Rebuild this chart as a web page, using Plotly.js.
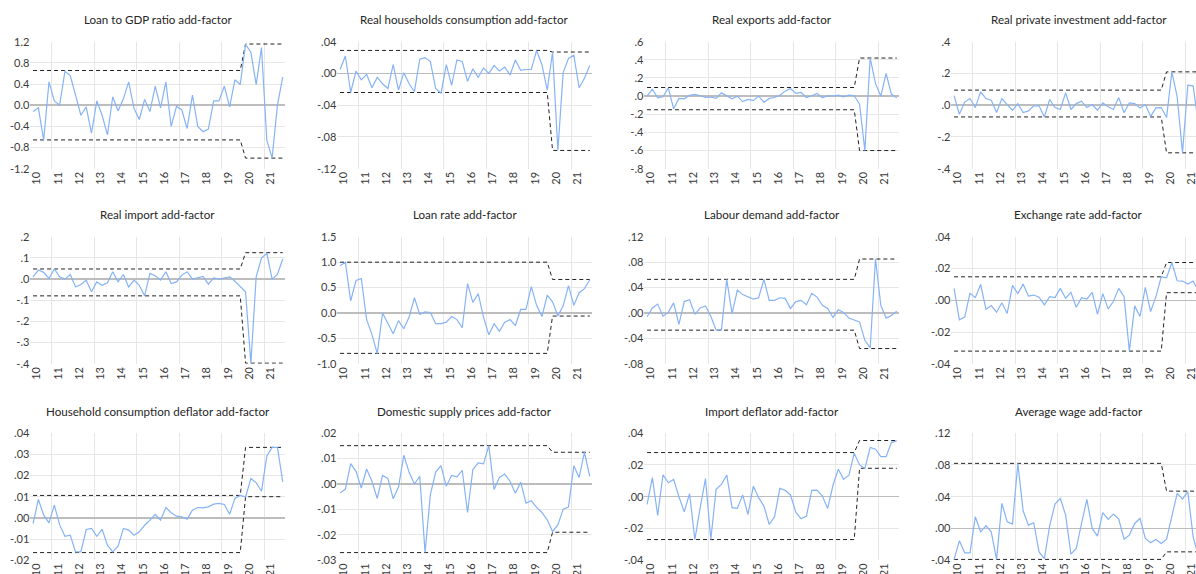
<!DOCTYPE html>
<html><head><meta charset="utf-8">
<script src="https://cdn.plot.ly/plotly-3.0.1.min.js"></script>
<style>html,body{margin:0;padding:0;overflow:hidden;background:#fff}#chart{width:1215px;height:574px}</style>
</head><body><div id="chart"></div>
<script>
// ---------- categories ----------
const years = [2010,2011,2012,2013,2014,2015,2016,2017,2018,2019,2020,2021];
const yearLabels = ["10","11","12","13","14","15","16","17","18","19","20","21"];
const quarters = [];
years.forEach(y => [1,2,3,4].forEach(q => quarters.push(y + "Q" + q)));
const boundQuarters = ["2010Q1","2019Q4","2020Q1","2021Q4"];

const titles = [
  "Loan to GDP ratio add-factor","Real households consumption add-factor","Real exports add-factor","Real private investment add-factor",
  "Real import add-factor","Loan rate add-factor","Labour demand add-factor","Exchange rate add-factor",
  "Household consumption deflator add-factor","Domestic supply prices add-factor","Import deflator add-factor","Average wage add-factor"
];

// ---------- series values (2010Q1 .. 2021Q4) ----------
const loanGdp = [-0.12,-0.05,-0.66,0.44,0.08,0.0,0.64,0.56,0.19,-0.19,-0.03,-0.53,0.08,-0.19,-0.56,0.16,-0.11,0.12,0.44,-0.06,-0.27,0.11,-0.12,0.36,-0.05,0.44,-0.40,-0.02,-0.09,-0.44,0.19,-0.40,-0.50,-0.45,0.08,0.08,0.36,-0.03,0.48,0.39,1.15,1.0,0.39,1.09,-0.66,-1.0,0.0,0.53];
const realCons = [0.005,0.022,-0.024,0.003,-0.008,-0.001,-0.018,-0.005,-0.013,-0.019,0.011,-0.021,0.001,-0.013,-0.023,0.018,0.020,0.015,-0.019,-0.025,0.011,-0.015,0.017,0.015,-0.010,0.006,-0.005,0.007,0.0,0.010,0.003,0.008,-0.002,0.017,0.004,0.005,0.005,0.029,0.011,-0.021,0.027,-0.097,0.001,0.019,0.023,-0.018,-0.006,0.010];
const realExports = [0.0,0.076,-0.018,-0.007,0.09,-0.14,-0.025,-0.03,0.01,0.02,0.004,-0.015,-0.01,-0.025,0.036,0.004,-0.03,0.0,-0.06,-0.036,-0.05,0.0,-0.07,-0.025,-0.015,0.01,0.055,0.084,0.03,0.04,-0.015,0.004,0.03,-0.018,0.004,0.0,0.01,-0.007,0.01,0.004,-0.09,-0.60,0.42,0.14,0.0,0.25,0.02,-0.018];
const realInvest = [0.06,-0.057,0.02,0.042,-0.015,0.084,0.042,0.032,-0.046,0.042,0.004,-0.032,0.01,-0.046,-0.036,-0.004,-0.004,-0.074,0.036,-0.015,-0.027,0.078,-0.027,0.01,0.025,-0.015,0.004,-0.032,0.015,-0.01,-0.027,0.048,-0.048,0.015,0.01,-0.017,0.004,-0.07,-0.017,-0.015,-0.078,0.21,0.053,-0.30,0.126,0.122,-0.12,0.05];
const realImport = [0.011,0.043,0.032,0.003,0.048,0.011,0.0,0.022,-0.037,-0.025,-0.005,-0.06,-0.013,-0.029,-0.017,0.035,-0.013,0.022,-0.037,-0.005,-0.029,-0.079,0.027,0.016,-0.005,0.035,-0.021,-0.013,0.019,0.035,0.0,0.006,0.013,-0.024,0.006,0.0,0.006,0.011,-0.01,-0.037,-0.06,-0.397,0.011,0.10,0.122,0.0,0.022,0.095];
const loanRate = [0.93,1.0,0.24,0.64,0.68,-0.13,-0.42,-0.8,0.0,-0.21,-0.41,-0.15,-0.31,-0.08,0.30,-0.03,0.02,0.01,-0.21,-0.21,-0.18,-0.07,-0.13,-0.29,0.58,0.21,0.38,-0.08,-0.43,-0.21,-0.36,-0.18,-0.13,-0.25,0.07,0.07,0.52,0.15,-0.07,0.35,0.22,-0.06,0.14,0.54,0.15,0.40,0.48,0.65];
const labourDemand = [-0.006,0.008,0.014,-0.005,0.001,0.016,-0.018,0.018,0.021,-0.002,0.008,0.011,-0.005,-0.027,-0.027,0.053,-0.001,0.036,0.029,0.025,0.022,0.024,0.053,0.020,0.020,0.024,0.023,0.007,0.018,0.020,0.013,0.031,0.025,0.012,0.007,-0.007,0.005,0.001,-0.008,-0.011,-0.014,-0.043,-0.055,0.085,0.012,-0.008,-0.004,0.003];
const exchangeRate = [0.0075,-0.0123,-0.0106,0.0044,0.0017,0.010,-0.0056,-0.0033,-0.0075,-0.0015,-0.0083,0.0094,0.0042,0.0102,0.0027,0.0033,0.0019,-0.0029,0.0023,0.0017,0.0075,0.0013,0.005,-0.0044,0.0017,0.0008,0.005,-0.0088,0.0042,-0.0054,-0.0008,0.0075,0.0023,-0.032,-0.0035,-0.0102,0.0081,-0.0071,0.0023,0.0148,0.0142,0.0238,0.0123,0.0121,0.0102,0.0121,0.006,0.005];
const hhDeflator = [-0.0027,0.0087,0.0013,-0.0024,0.006,-0.0032,-0.0087,-0.0082,-0.0161,-0.0161,-0.0055,-0.005,-0.0087,-0.0054,-0.0129,-0.0161,-0.0134,-0.005,-0.0058,-0.0082,-0.0066,-0.0035,-0.0011,0.0016,-0.0011,0.0049,0.0024,0.0008,0.0005,-0.0006,0.0036,0.0049,0.0047,0.0052,0.0065,0.0068,0.0063,0.0017,0.0092,0.0106,0.0099,0.0186,0.0166,0.0126,0.0292,0.0333,0.0333,0.017];
const domSupply = [-0.0036,-0.002,0.008,0.005,-0.0016,0.0059,0.0011,-0.0057,0.0034,0.0022,-0.0058,-0.0012,0.0113,0.0046,0.0,0.003,-0.027,-0.0042,0.0047,0.0072,-0.0009,0.0034,0.0028,0.0054,-0.0112,0.0057,0.0083,0.0079,0.0151,-0.0022,0.0026,0.0039,0.0011,-0.0036,0.0007,-0.0075,-0.0066,-0.0092,-0.0112,-0.0141,-0.0187,-0.0161,-0.0099,-0.0091,0.0072,0.0026,0.0125,0.003];
const importDeflator = [-0.0048,0.012,-0.0118,0.0137,0.0088,0.0109,0.0,-0.0095,0.0019,-0.027,-0.0069,0.0114,-0.027,0.0046,0.0078,0.0137,-0.0069,-0.0074,0.0011,-0.0112,0.0067,-0.0006,-0.0059,-0.0175,-0.0126,0.0053,0.004,0.0011,-0.0097,-0.0139,-0.0122,0.004,0.0042,0.0004,-0.0074,0.0072,0.0173,0.0109,0.0135,0.0274,0.020,0.0177,0.031,0.0299,0.0253,0.0253,0.0341,0.0352];
const avgWage = [-0.039,-0.0156,-0.0307,-0.0307,0.0147,-0.0042,0.0034,-0.0042,-0.039,0.0316,0.0084,0.0055,0.082,0.0223,0.0042,0.0072,-0.0295,-0.0379,0.0034,0.0307,0.0379,0.0168,-0.0324,-0.0253,0.0063,0.0366,0.0,-0.0097,0.0198,0.0114,0.0181,0.0118,-0.0135,-0.0084,0.0063,0.0126,-0.0126,-0.0181,-0.0139,-0.0189,-0.0135,0.0147,0.0442,0.037,0.0463,-0.0105,-0.035,-0.01];

// ---------- bound series (at boundQuarters) ----------
const upperLoanGdp = [0.656,0.656,1.156,1.156],   lowerLoanGdp = [-0.656,-0.656,-1.0,-1.0];
const upperRealCons = [0.029,0.029,0.027,0.027],  lowerRealCons = [-0.024,-0.024,-0.097,-0.097];
const upperRealExports = [0.095,0.095,0.42,0.42], lowerRealExports = [-0.15,-0.15,-0.60,-0.60];
const upperRealInvest = [0.095,0.095,0.21,0.21],  lowerRealInvest = [-0.074,-0.074,-0.30,-0.30];
const upperRealImport = [0.048,0.048,0.125,0.125],lowerRealImport = [-0.079,-0.079,-0.397,-0.397];
const upperLoanRate = [1.0,1.0,0.66,0.66],        lowerLoanRate = [-0.795,-0.795,-0.06,-0.06];
const upperLabour = [0.053,0.053,0.085,0.085],    lowerLabour = [-0.027,-0.027,-0.056,-0.056];
const upperExchange = [0.0148,0.0148,0.0238,0.0238], lowerExchange = [-0.032,-0.032,0.0048,0.0048];
const upperHhDefl = [0.0106,0.0106,0.0333,0.0333],lowerHhDefl = [-0.0164,-0.0164,0.0100,0.0100];
const upperDomSupply = [0.0151,0.0151,0.0125,0.0125], lowerDomSupply = [-0.027,-0.027,-0.019,-0.019];
const upperImpDefl = [0.0278,0.0278,0.0354,0.0354], lowerImpDefl = [-0.027,-0.027,0.0179,0.0179];
const upperAvgWage = [0.082,0.082,0.047,0.047],   lowerAvgWage = [-0.039,-0.039,-0.0295,-0.0295];

// ---------- y tick labels ----------
const yTicks = [
  {v:[-1.2,-0.8,-0.4,0,0.4,0.8,1.2], t:["-1.2","-0.8","-0.4","0.0","0.4","0.8","1.2"]},
  {v:[-0.12,-0.08,-0.04,0,0.04], t:["-.12","-.08","-.04",".00",".04"]},
  {v:[-0.8,-0.6,-0.4,-0.2,0,0.2,0.4,0.6], t:["-.8","-.6","-.4","-.2",".0",".2",".4",".6"]},
  {v:[-0.4,-0.2,0,0.2,0.4], t:["-.4","-.2",".0",".2",".4"]},
  {v:[-0.4,-0.3,-0.2,-0.1,0,0.1,0.2], t:["-.4","-.3","-.2","-.1",".0",".1",".2"]},
  {v:[-1.0,-0.5,0,0.5,1.0,1.5], t:["-1.0","-0.5","0.0","0.5","1.0","1.5"]},
  {v:[-0.08,-0.04,0,0.04,0.08,0.12], t:["-.08","-.04",".00",".04",".08",".12"]},
  {v:[-0.04,-0.02,0,0.02,0.04], t:["-.04","-.02",".00",".02",".04"]},
  {v:[-0.02,-0.01,0,0.01,0.02,0.03,0.04], t:["-.02","-.01",".00",".01",".02",".03",".04"]},
  {v:[-0.03,-0.02,-0.01,0,0.01,0.02], t:["-.03","-.02","-.01",".00",".01",".02"]},
  {v:[-0.04,-0.02,0,0.02,0.04], t:["-.04","-.02",".00",".02",".04"]},
  {v:[-0.04,0,0.04,0.08,0.12], t:["-.04",".00",".04",".08",".12"]}
];

const series = [loanGdp,realCons,realExports,realInvest,realImport,loanRate,labourDemand,exchangeRate,hhDeflator,domSupply,importDeflator,avgWage];
const uppers = [upperLoanGdp,upperRealCons,upperRealExports,upperRealInvest,upperRealImport,upperLoanRate,upperLabour,upperExchange,upperHhDefl,upperDomSupply,upperImpDefl,upperAvgWage];
const lowers = [lowerLoanGdp,lowerRealCons,lowerRealExports,lowerRealInvest,lowerRealImport,lowerLoanRate,lowerLabour,lowerExchange,lowerHhDefl,lowerDomSupply,lowerImpDefl,lowerAvgWage];

// ---------- layout geometry ----------
const W = 1215, H = 574;
const colLeft = 30.4, colStep = 307, plotW = 255;
const rowTops = [41.7, 236.8, 433.2], plotH = 127;
const FONT = "Lato, 'Open Sans', sans-serif";

function qToX(q){ const y = +q.slice(0,4), n = +q.slice(5); return y + (n-1)/4 + 0.125; }
const qx = quarters.map(qToX);
const bx = boundQuarters.map(qToX);
const labelPos = years.map(y => y + 0.3);
const gridYears = years.filter(y => y % 2 === 1);

const data = [], layout = {
  width: W, height: H, margin:{l:0,r:0,t:0,b:0}, showlegend:false,
  paper_bgcolor:'#fff', plot_bgcolor:'#fff', font:{family:FONT, size:11, color:'#333'},
  annotations: []
};

for (let k = 0; k < 12; k++) {
  const r = Math.floor(k/4), c = k % 4, n = k + 1;
  const x0 = colLeft + c*colStep, top = rowTops[r];
  const xd = [x0/W, (x0+plotW)/W];
  const yd = [1 - (top+plotH)/H, 1 - top/H];
  const yr = [yTicks[k].v[0], yTicks[k].v[yTicks[k].v.length-1]];
  layout['xaxis'+n] = {
    domain: xd, range:[2010, 2022], anchor:'y'+n, fixedrange:true,
    tickmode:'array', tickvals: labelPos, ticktext: yearLabels, tickangle:-90,
    ticks:'', showgrid:false, zeroline:false, showline:false,
    tickfont:{family:FONT, size:11, color:'#3a3a3a'},
    minor:{tickmode:'array', tickvals: gridYears, showgrid:true, gridcolor:'#e6e6e6', gridwidth:1, ticks:''}
  };
  layout['yaxis'+n] = {
    domain: yd, range: yr, anchor:'x'+n, fixedrange:true,
    tickmode:'array', tickvals: yTicks[k].v, ticktext: yTicks[k].t,
    ticks:'', showgrid:true, gridcolor:'#e6e6e6', gridwidth:1,
    zeroline:true, zerolinecolor:'#bdbdbd', zerolinewidth:1.5, showline:false,
    tickfont:{family:FONT, size:11, color:'#3a3a3a'}
  };
  layout.annotations.push({
    text: titles[k], xref:'paper', yref:'paper', x:(xd[0]+xd[1])/2, y: 1 - (top-22)/H,
    xanchor:'center', yanchor:'middle', showarrow:false,
    font:{family:FONT, size:11.6, color:'#262626'}
  });
  const ax = {xaxis:'x'+n, yaxis:'y'+n, hoverinfo:'skip', cliponaxis:false};
  data.push(Object.assign({x:bx, y:uppers[k], mode:'lines', line:{color:'#222', width:1, dash:'4px,3px'}}, ax));
  data.push(Object.assign({x:bx, y:lowers[k], mode:'lines', line:{color:'#222', width:1, dash:'4px,3px'}}, ax));
  data.push(Object.assign({x:qx, y:series[k], mode:'lines', line:{color:'#86b3f7', width:1.2}}, ax));
}

Plotly.newPlot('chart', data, layout, {displayModeBar:false, staticPlot:true});
</script>
</body></html>
